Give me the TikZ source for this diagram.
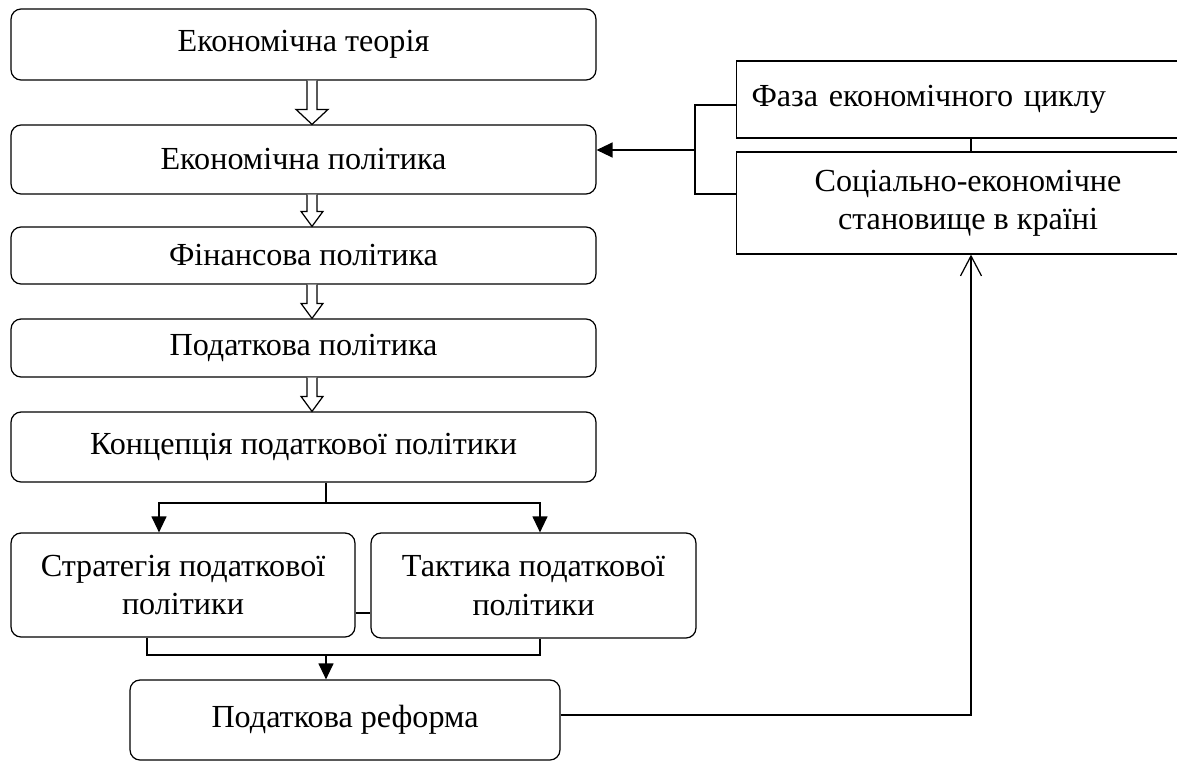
\documentclass[tikz,border=0pt]{standalone}
\usepackage{fontspec}
\setmainfont{Liberation Serif}
\usetikzlibrary{arrows.meta,calc}
\tikzset{
  block/.style={draw, line width=0.7pt, rounded corners=0.2cm, inner sep=0pt,
    align=center, font=\fontsize{18.3}{21.8}\selectfont},
  plainbox/.style={draw, line width=0.7pt, inner sep=0pt,
    font=\fontsize{18.3}{21.8}\selectfont},
  link/.style={line width=0.7pt},
  arr/.style={line width=0.7pt, -{Triangle[length=0.32cm,width=0.3cm]}},
  openarr/.style={line width=0.7pt, -{Straight Barb[length=0.4cm,width=0.42cm]}}
}
% hollow block arrow between two stacked boxes
\newcommand{\hollowarrow}[3]{%
  \draw[line width=0.7pt, fill=white]
    ($(#1.south)+(3.5,0)$) -- ($(#2.north)+(3.5,-15)$)
    -- ($(#2.north)+(8.5-#3,-15)$) -- ($(#2.north)+(8.5,0)$)
    -- ($(#2.north)+(8.5+#3,-15)$) -- ($(#2.north)+(13.5,-15)$)
    -- ($(#1.south)+(13.5,0)$);}
\begin{document}
\begin{tikzpicture}[x=0.02cm, y=-0.02cm]
  \useasboundingbox (0,0) rectangle (1177,761);
  \clip (0,0) rectangle (1177,761);
  % left column
  \node[block, minimum width=11.7cm, minimum height=1.42cm] (teoria) at (303.5,44.5) {Економічна теорія};
  \node[block, minimum width=11.7cm, minimum height=1.38cm] (polityka) at (303.5,159.5) {Економічна політика};
  \node[block, minimum width=11.7cm, minimum height=1.14cm] (finansova) at (303.5,255.5) {Фінансова політика};
  \node[block, minimum width=11.7cm, minimum height=1.16cm] (podatkova) at (303.5,348) {Податкова політика};
  \node[block, minimum width=11.7cm, minimum height=1.4cm] (koncepcia) at (303.5,447) {Концепція податкової політики};
  \node[block, minimum width=6.88cm, minimum height=2.08cm] (strategia) at (183,585) {Стратегія податкової\\політики};
  \node[block, minimum width=6.5cm, minimum height=2.1cm] (taktyka) at (533.5,585.5) {Тактика податкової\\політики};
  \node[block, minimum width=8.6cm, minimum height=1.6cm] (reforma) at (345,720) {Податкова реформа};
  % right column
  \node[plainbox, minimum width=9.26cm, minimum height=1.54cm, text width=8.66cm, align=left] (faza) at (968,99.5) {Фаза економічного циклу\\[8pt]};
  \node[plainbox, minimum width=9.26cm, minimum height=2.04cm, align=center] (socialno) at (968,203) {Соціально-економічне\\становище в країні};
  % hollow arrows
  \hollowarrow{teoria}{polityka}{16}
  \hollowarrow{polityka}{finansova}{11}
  \hollowarrow{finansova}{podatkova}{11}
  \hollowarrow{podatkova}{koncepcia}{11}
  % factors
  \coordinate (brk) at (695,150);
  \draw[link] ($(faza.west)+(0,5.5)$) -| (brk) |- ($(socialno.west)+(0,-9)$);
  \draw[arr] (brk) -- (polityka.east |- brk);
  \draw[link] ([xshift=0.06cm]faza.south) -- ([xshift=0.06cm]socialno.north);
  % branching
  \coordinate (split) at (326,503);
  \draw[link] (koncepcia.south -| split) -- (split);
  \draw[arr] (split) -| (159,0 |- strategia.north);
  \draw[arr] (split) -| (540,0 |- taktyka.north);
  \draw[link] (strategia.east |- 0,613) -- (taktyka.west |- 0,613);
  \coordinate (join) at (326,655);
  \draw[link] (strategia.south -| 147,0) |- (join) -| (taktyka.south -| 540,0);
  \draw[arr] (join) -- (reforma.north -| join);
  \draw[openarr] ($(reforma.east)+(0,-5)$) -| ([xshift=0.06cm]socialno.south);
\end{tikzpicture}
\end{document}
